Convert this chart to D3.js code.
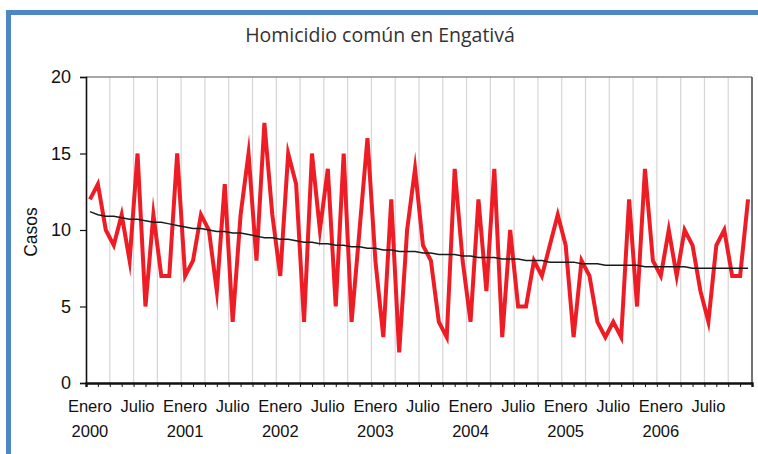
<!DOCTYPE html>
<html>
<head>
<meta charset="utf-8">
<script src="https://cdn.jsdelivr.net/npm/d3@7/dist/d3.min.js"></script>
<style>
  html, body { margin: 0; padding: 0; background: #fff; }
  svg { display: block; }
</style>
</head>
<body>
<svg id="chart" width="758" height="454"></svg>
<script>
// ---- Data (monthly, Jan 2000 – Dec 2006) ----
const years = ["2000", "2001", "2002", "2003", "2004", "2005", "2006"];
const monthLabels = ["Enero", "Julio"];
const casos = [
  12, 13, 10, 9, 11, 8, 15, 5, 11, 7, 7, 15,
  7, 8, 11, 10, 6, 13, 4, 11, 15, 8, 17, 11,
  7, 15, 13, 4, 15, 10, 14, 5, 15, 4, 10, 16,
  8, 3, 12, 2, 10, 14, 9, 8, 4, 3, 14, 8,
  4, 12, 6, 14, 3, 10, 5, 5, 8, 7, 9, 11,
  9, 3, 8, 7, 4, 3, 4, 3, 12, 5, 14, 8,
  7, 10, 7, 10, 9, 6, 4, 9, 10, 7, 7, 12
];
const tendencia = [
  11.2, 11.0, 10.9, 10.9, 10.8, 10.7, 10.7, 10.6, 10.5, 10.5, 10.4, 10.3,
  10.2, 10.1, 10.1, 10.0, 9.9, 9.9, 9.8, 9.8, 9.7, 9.6, 9.5, 9.5,
  9.4, 9.4, 9.3, 9.2, 9.2, 9.1, 9.1, 9.0, 9.0, 8.9, 8.9, 8.8,
  8.8, 8.7, 8.7, 8.6, 8.6, 8.6, 8.5, 8.5, 8.4, 8.4, 8.4, 8.3,
  8.3, 8.2, 8.2, 8.2, 8.1, 8.1, 8.1, 8.0, 8.0, 8.0, 7.9, 7.9,
  7.9, 7.9, 7.8, 7.8, 7.8, 7.7, 7.7, 7.7, 7.7, 7.7, 7.6, 7.6,
  7.6, 7.6, 7.6, 7.6, 7.5, 7.5, 7.5, 7.5, 7.5, 7.5, 7.5, 7.5
];
const yTicks = [0, 5, 10, 15, 20];
const title = "Homicidio común en Engativá";
const yTitle = "Casos";

// ---- Layout ----
const svg = d3.select("#chart");
const pL = 86, pR = 752, pT = 77, pB = 383;
const idx = d3.range(casos.length);

const x = d3.scaleBand().domain(idx).range([pL, pR]).padding(0);
const y = d3.scaleLinear().domain([0, 20]).range([pB, pT]);
const cx = i => x(i) + x.bandwidth() / 2;

// blue frame
svg.append("rect")
  .attr("x", 8.5).attr("y", 12.5)
  .attr("width", 800).attr("height", 500)
  .attr("fill", "none")
  .attr("stroke", "#4e86c6")
  .attr("stroke-width", 5);

// title
svg.append("text")
  .attr("x", 380).attr("y", 42)
  .attr("text-anchor", "middle")
  .attr("font-family", "'Open Sans', 'DejaVu Sans', sans-serif")
  .attr("font-size", 19.5)
  .attr("fill", "#333")
  .text(title);

// vertical gridlines every quarter
const gridPos = d3.range(3, casos.length, 3).map(i => x(i));
svg.append("g").selectAll("line")
  .data(gridPos).join("line")
  .attr("x1", d => d).attr("x2", d => d)
  .attr("y1", pT).attr("y2", pB)
  .attr("stroke", "#d6d6d6").attr("stroke-width", 1.2);

// plot top & right borders
svg.append("line")
  .attr("x1", pL).attr("x2", pR)
  .attr("y1", pT).attr("y2", pT)
  .attr("stroke", "#8a8a8a").attr("stroke-width", 1.5);
svg.append("line")
  .attr("x1", pR).attr("x2", pR)
  .attr("y1", pT).attr("y2", pB)
  .attr("stroke", "#444").attr("stroke-width", 1.5);

// y axis
const yAxis = d3.axisLeft(y).tickValues(yTicks).tickSize(6).tickPadding(9);
const gy = svg.append("g").attr("transform", `translate(${pL},0)`).call(yAxis);
gy.select(".domain").attr("stroke", "#111").attr("stroke-width", 1.6);
gy.selectAll(".tick line").attr("stroke", "#111").attr("stroke-width", 1.2);
gy.selectAll(".tick text")
  .attr("font-family", "'Liberation Sans', Arial, sans-serif")
  .attr("font-size", 18).attr("fill", "#111");

// y title
svg.append("text")
  .attr("transform", `translate(37,${(pT + pB) / 2 + 2}) rotate(-90)`)
  .attr("text-anchor", "middle")
  .attr("font-family", "'Liberation Sans', Arial, sans-serif")
  .attr("font-size", 17.5).attr("fill", "#111")
  .text(yTitle);

// x axis (bottom) with minor ticks every 1.5 months
const xs = d3.scaleLinear().domain([0, casos.length]).range([pL, pR]);
const minorTicks = d3.range(0, casos.length + 0.01, 1.5);
const xAxis = d3.axisBottom(xs).tickValues(minorTicks).tickSize(4).tickFormat("");
const gx = svg.append("g").attr("transform", `translate(0,${pB})`).call(xAxis);
gx.select(".domain").attr("stroke", "#111").attr("stroke-width", 2.4);
gx.selectAll(".tick line").attr("stroke", "#111").attr("stroke-width", 1);

// x labels: Enero / Julio and years
const labelIdx = d3.range(0, casos.length, 6);
svg.append("g").selectAll("text")
  .data(labelIdx).join("text")
  .attr("x", i => cx(i)).attr("y", 412)
  .attr("text-anchor", "middle")
  .attr("font-family", "'Liberation Sans', Arial, sans-serif")
  .attr("font-size", 16.5).attr("fill", "#111")
  .text(i => monthLabels[(i / 6) % 2]);
svg.append("g").selectAll("text")
  .data(years).join("text")
  .attr("x", (d, k) => cx(k * 12)).attr("y", 437)
  .attr("text-anchor", "middle")
  .attr("font-family", "'Liberation Sans', Arial, sans-serif")
  .attr("font-size", 16.5).attr("fill", "#111")
  .text(d => d);

// red series
const line = d3.line().x((d, i) => cx(i)).y(d => y(d));
svg.append("path")
  .datum(casos)
  .attr("d", line)
  .attr("fill", "none")
  .attr("stroke", "#ee1c25")
  .attr("stroke-width", 4)
  .attr("stroke-linejoin", "miter")
  .attr("stroke-miterlimit", 10);

// trend line
svg.append("path")
  .datum(tendencia)
  .attr("d", line)
  .attr("fill", "none")
  .attr("stroke", "#1a1a1a")
  .attr("stroke-width", 1.5);
</script>
</body>
</html>
